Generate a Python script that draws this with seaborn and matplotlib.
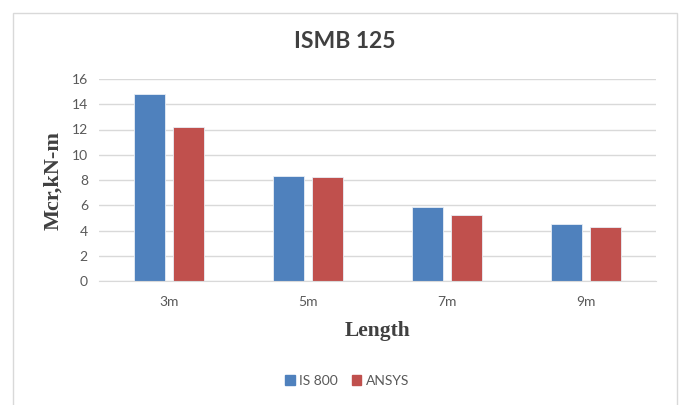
import matplotlib
matplotlib.use("Agg")
import matplotlib.pyplot as plt
import seaborn as sns
import pandas as pd
from matplotlib.patches import Rectangle

categories = ["3m", "5m", "7m", "9m"]
is800 = [14.8, 8.35, 5.85, 4.5]
ansys = [12.2, 8.2, 5.2, 4.3]
series_names = ["IS 800", "ANSYS"]
yticks = [0, 2, 4, 6, 8, 10, 12, 14, 16]

df = pd.DataFrame({
    "Length": categories * 2,
    "value": is800 + ansys,
    "series": [series_names[0]] * 4 + [series_names[1]] * 4,
})

sns.set_style("white")
plt.rcParams["font.family"] = ["Lato", "DejaVu Sans"]

fig = plt.figure(figsize=(6.81, 4.05), dpi=100)
fig.patch.set_facecolor("white")
# chart border
fig.add_artist(Rectangle((13 / 681, -0.01), (677 - 13) / 681, 1 - 13 / 405 + 0.01,
                         transform=fig.transFigure, fill=False,
                         edgecolor="#D9D9D9", linewidth=1.0))

ax = fig.add_axes([99 / 681, 1 - 281 / 405, (656 - 99) / 681, (281 - 79) / 405])
palette = {"IS 800": "#4F81BD", "ANSYS": "#C0504D"}
sns.barplot(data=df, x="Length", y="value", hue="series", palette=palette,
            width=0.56, gap=0.2, saturation=1, ax=ax, legend=False,
            edgecolor="#E8EEF6", linewidth=0.6)

ax.set_ylim(0, 16)
ax.set_yticks(yticks)
ax.yaxis.grid(True, color="#D9D9D9", linewidth=1.0)
ax.set_axisbelow(True)
for s in ["top", "right", "left"]:
    ax.spines[s].set_visible(False)
ax.spines["bottom"].set_color("#D9D9D9")
ax.tick_params(axis="both", length=0, labelsize=10, labelcolor="#595959")
ax.tick_params(axis="x", pad=11)
ax.tick_params(axis="y", pad=8)

ax.set_xlabel("Length", fontsize=15.5, fontweight="bold", family="Liberation Serif",
              color="#404040", labelpad=9)
ax.set_ylabel("Mcr,kN-m", fontsize=16, fontweight="bold", family="Liberation Serif",
              color="#404040", labelpad=6)

fig.text(345 / 681, 1 - 42 / 405, "ISMB 125", ha="center", va="center",
         fontsize=16.5, fontweight="bold", color="#404040")

handles = [Rectangle((0, 0), 1, 1, color=palette[n]) for n in series_names]
fig.legend(handles, series_names, loc="center", bbox_to_anchor=(347 / 681, 1 - 381 / 405),
           ncol=2, frameon=False, fontsize=10, handlelength=0.7, handleheight=0.7,
           handletextpad=0.3, columnspacing=1.0, labelcolor="#595959")

fig.savefig("out.png", dpi=100, facecolor="white")
